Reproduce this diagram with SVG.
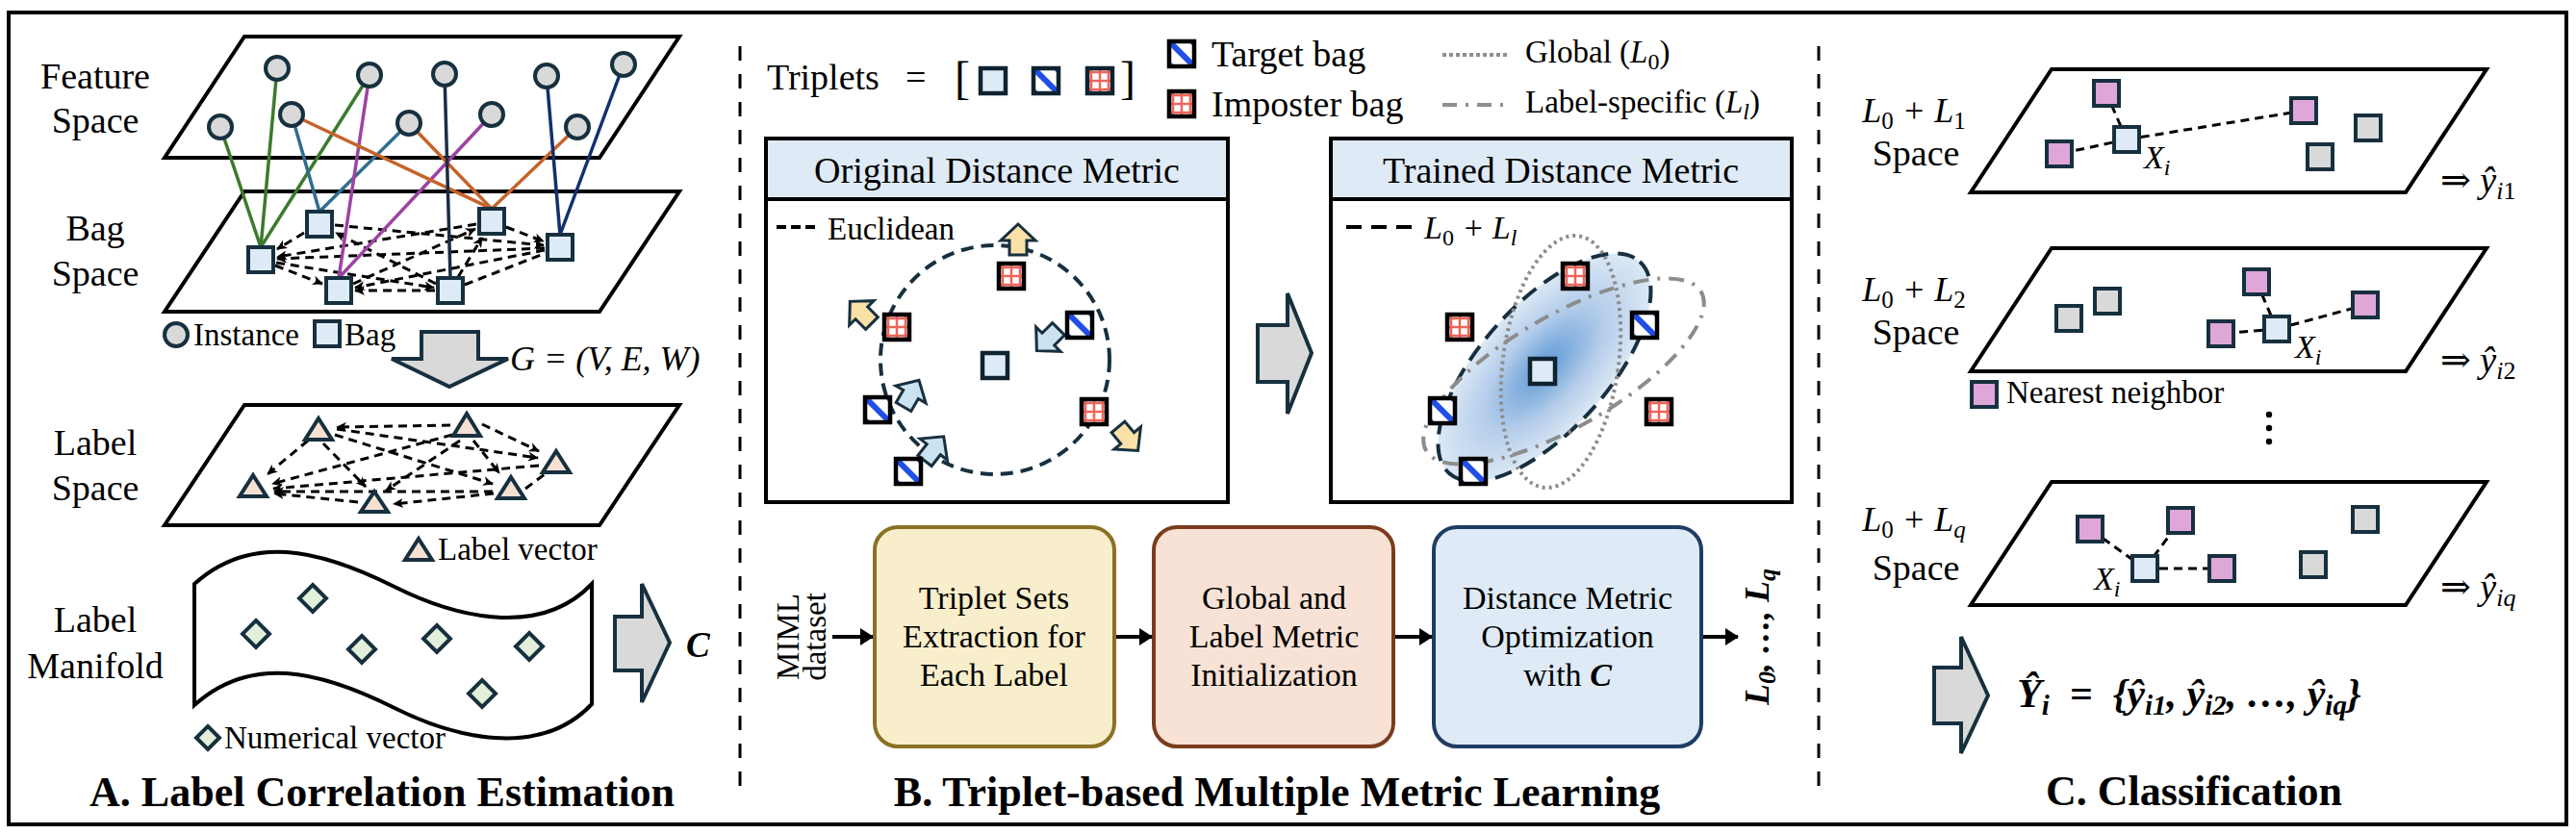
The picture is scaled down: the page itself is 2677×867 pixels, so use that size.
<svg xmlns="http://www.w3.org/2000/svg" width="2677" height="867" viewBox="0 0 2677 867">
<style>
text{font-family:"Liberation Serif","DejaVu Serif",serif;fill:#000}
.lbl{font-size:38px}
.leg{font-size:33px}
.box{font-size:34px}
.ttl{font-size:44px;font-weight:bold}
.it{font-style:italic}
.bi{font-style:italic;font-weight:bold}
.para{fill:#fff;stroke:#000;stroke-width:4;stroke-linejoin:miter}
.big{fill:#d9d9d9;stroke:#17303f;stroke-width:4;stroke-linejoin:miter}
.sep{stroke:#000;stroke-width:3;stroke-dasharray:15 14;fill:none}
.gd{stroke:#000;stroke-width:3;stroke-dasharray:9 6;fill:none}
.nd{stroke:#000;stroke-width:3;stroke-dasharray:9 6;fill:none}
.inst{fill:#d9d9d9;stroke:#17303f;stroke-width:4}
.tri{fill:#f6e0d2;stroke:#17303f;stroke-width:4;stroke-linejoin:miter}
.dia{fill:#e2efda;stroke:#17303f;stroke-width:4;stroke-linejoin:miter}
.flow{stroke:#000;stroke-width:4;fill:none}
.yarr{fill:#f9e1a8;stroke:#17303f;stroke-width:3;stroke-linejoin:miter}
.barr{fill:#cbe2f1;stroke:#17303f;stroke-width:3;stroke-linejoin:miter}
</style>
<defs>
<marker id="gm" markerUnits="userSpaceOnUse" markerWidth="11" markerHeight="10" refX="10" refY="5" orient="auto"><path d="M0,0 L11,5 L0,10 L3,5 Z" fill="#000"/></marker>
<marker id="fm" markerUnits="userSpaceOnUse" markerWidth="14" markerHeight="18" refX="13" refY="9" orient="auto"><path d="M0,0 L14,9 L0,18 Z" fill="#000"/></marker>
<clipPath id="sqc"><rect x="-13" y="-13" width="26" height="26"/></clipPath>
<g id="bag"><rect x="-13" y="-13" width="26" height="26" fill="#deebf7" stroke="#17303f" stroke-width="4"/></g>
<g id="pnk"><rect x="-13" y="-13" width="26" height="26" fill="#dfa6d8" stroke="#17303f" stroke-width="4"/></g>
<g id="gry"><rect x="-13" y="-13" width="26" height="26" fill="#d9d9d9" stroke="#17303f" stroke-width="4"/></g>
<g id="pln"><rect x="-13" y="-13" width="26" height="26" fill="#deebf7" stroke="#0f2230" stroke-width="4.5"/></g>
<g id="tgt">
<rect x="-13" y="-13" width="26" height="26" fill="#fff"/>
<g clip-path="url(#sqc)" stroke="#1f4fe6" stroke-width="6">
<line x1="-16" y1="-16" x2="16" y2="16"/>
<line x1="0" y1="-24" x2="24" y2="0"/>
<line x1="-24" y1="0" x2="0" y2="24"/>
</g>
<rect x="-13" y="-13" width="26" height="26" fill="none" stroke="#000" stroke-width="4.5"/>
</g>
<g id="imp">
<rect x="-13" y="-13" width="26" height="26" fill="#fff"/>
<g stroke="#f0645a" stroke-width="2.5">
<line x1="-9" y1="-13" x2="-9" y2="13"/><line x1="0" y1="-13" x2="0" y2="13"/><line x1="9" y1="-13" x2="9" y2="13"/>
<line x1="-13" y1="-9" x2="13" y2="-9"/><line x1="-13" y1="0" x2="13" y2="0"/><line x1="-13" y1="9" x2="13" y2="9"/>
</g>
<rect x="-13" y="-13" width="26" height="26" fill="none" stroke="#000" stroke-width="4.5"/>
</g>
<path id="blk" d="M0,-9 L15,-9 L15,-18 L32,0 L15,18 L15,9 L0,9 Z"/>
<radialGradient id="rg" cx="0.5" cy="0.5" r="0.5">
<stop offset="0" stop-color="#5e99d6"/>
<stop offset="0.55" stop-color="#b4cdea"/>
<stop offset="1" stop-color="#dce8f5"/>
</radialGradient>
</defs>

<rect x="9" y="13" width="2658" height="844" fill="#fff" stroke="#000" stroke-width="4"/>

<g id="separators">
<line class="sep" x1="769" y1="48" x2="769" y2="820"/>
<line class="sep" x1="1890" y1="48" x2="1890" y2="820"/>
</g>

<!-- ================= PANEL A ================= -->
<g id="feature-space">
<polygon class="para" points="254,38 706,38 623,164 171,164"/>
<text class="lbl" x="99" y="92" text-anchor="middle">Feature</text>
<text class="lbl" x="99" y="138" text-anchor="middle">Space</text>
</g>
<g id="bag-space">
<polygon class="para" points="254,199 706,199 623,324 171,324"/>
<text class="lbl" x="99" y="250" text-anchor="middle">Bag</text>
<text class="lbl" x="99" y="297" text-anchor="middle">Space</text>
</g>

<g id="bag-graph-edges" class="gd" marker-end="url(#gm)">
<line x1="348" y1="234" x2="565" y2="255"/>
<line x1="495" y1="233" x2="288" y2="267"/>
<line x1="566" y1="258" x2="288" y2="269"/>
<line x1="287" y1="273" x2="451" y2="299"/>
<line x1="316" y1="242" x2="288" y2="259"/>
<line x1="286" y1="276" x2="335" y2="295"/>
<line x1="453" y1="295" x2="349" y2="242"/>
<line x1="367" y1="295" x2="494" y2="238"/>
<line x1="566" y1="260" x2="369" y2="299"/>
<line x1="452" y1="302" x2="369" y2="302"/>
<line x1="526" y1="236" x2="565" y2="251"/>
<line x1="476" y1="288" x2="501" y2="247"/>
<line x1="483" y1="296" x2="567" y2="263" marker-end="none"/>
</g>

<g id="instance-bag-links" stroke-width="3.5" fill="none">
<g stroke="#3c7a2e"><line x1="229" y1="132" x2="271" y2="257"/><line x1="288" y1="71" x2="271" y2="257"/><line x1="384" y1="78" x2="271" y2="257"/></g>
<g stroke="#2f6e8e"><line x1="303" y1="119" x2="332" y2="220"/><line x1="425" y1="128" x2="332" y2="220"/></g>
<g stroke="#9c43a2"><line x1="384" y1="78" x2="352" y2="289"/><line x1="511" y1="119" x2="352" y2="289"/></g>
<g stroke="#c6632a"><line x1="303" y1="119" x2="511" y2="217"/><line x1="425" y1="128" x2="511" y2="217"/><line x1="600" y1="132" x2="511" y2="217"/></g>
<g stroke="#1b2c45"><line x1="462" y1="77" x2="468" y2="289"/></g>
<g stroke="#12306e"><line x1="568" y1="79" x2="582" y2="244"/><line x1="648" y1="67" x2="582" y2="244"/></g>
</g>

<g id="instances">
<circle class="inst" cx="288" cy="71" r="12"/>
<circle class="inst" cx="384" cy="78" r="12"/>
<circle class="inst" cx="462" cy="77" r="12"/>
<circle class="inst" cx="568" cy="79" r="12"/>
<circle class="inst" cx="648" cy="67" r="12"/>
<circle class="inst" cx="229" cy="132" r="12"/>
<circle class="inst" cx="303" cy="119" r="12"/>
<circle class="inst" cx="425" cy="128" r="12"/>
<circle class="inst" cx="511" cy="119" r="12"/>
<circle class="inst" cx="600" cy="132" r="12"/>
</g>
<g id="bags">
<use href="#bag" x="271" y="270"/>
<use href="#bag" x="332" y="233"/>
<use href="#bag" x="352" y="302"/>
<use href="#bag" x="511" y="230"/>
<use href="#bag" x="582" y="257"/>
<use href="#bag" x="468" y="302"/>
</g>

<g id="legend-instance-bag">
<circle class="inst" cx="183" cy="348" r="12"/>
<text class="leg" x="201" y="359">Instance</text>
<use href="#bag" x="340" y="347"/>
<text class="leg" x="358" y="359">Bag</text>
</g>

<g id="graph-arrow">
<path class="big" d="M438,345 L497,345 L497,373 L528,373 L467,402 L407,373 L438,373 Z"/>
<text class="it" font-size="36" x="530" y="385">G = (V, E, W)</text>
</g>

<g id="label-space">
<polygon class="para" points="254,421 706,421 623,546 171,546"/>
<text class="lbl" x="99" y="473" text-anchor="middle">Label</text>
<text class="lbl" x="99" y="520" text-anchor="middle">Space</text>
</g>
<g id="label-graph-edges" class="gd" marker-end="url(#gm)">
<line x1="468" y1="442" x2="350" y2="444"/>
<line x1="320" y1="458" x2="278" y2="493"/>
<line x1="470" y1="452" x2="283" y2="503"/>
<line x1="560" y1="484" x2="284" y2="508"/>
<line x1="512" y1="511" x2="285" y2="511"/>
<line x1="372" y1="522" x2="285" y2="513"/>
<line x1="348" y1="452" x2="512" y2="503"/>
<line x1="336" y1="461" x2="380" y2="506"/>
<line x1="501" y1="441" x2="560" y2="469"/>
<line x1="350" y1="446" x2="559" y2="476"/>
<line x1="513" y1="513" x2="409" y2="524"/>
<line x1="478" y1="458" x2="401" y2="510"/>
<line x1="492" y1="458" x2="519" y2="492"/>
<line x1="546" y1="508" x2="566" y2="493" marker-end="none"/>
</g>
<g id="label-vectors">
<polygon class="tri" points="331,435 345,457 317,457"/>
<polygon class="tri" points="485,430 499,453 471,453"/>
<polygon class="tri" points="578,469 592,491 564,491"/>
<polygon class="tri" points="263,494 277,516 249,516"/>
<polygon class="tri" points="389,511 403,532 375,532"/>
<polygon class="tri" points="531,496 545,518 517,518"/>
</g>
<g id="legend-label-vector">
<polygon class="tri" points="435,560 449,582 421,582"/>
<text class="leg" x="455" y="582">Label vector</text>
</g>

<g id="label-manifold">
<path d="M202,607 C260,555 330,570 410,610 C470,640 560,665 615,607 L615,732 C560,790 470,766 410,736 C330,696 260,681 202,733 Z" fill="#fff" stroke="#000" stroke-width="4"/>
<text class="lbl" x="99" y="657" text-anchor="middle">Label</text>
<text class="lbl" x="99" y="705" text-anchor="middle">Manifold</text>
<polygon class="dia" points="325,608 339,622 325,636 311,622"/>
<polygon class="dia" points="266,645 280,659 266,673 252,659"/>
<polygon class="dia" points="376,661 390,675 376,689 362,675"/>
<polygon class="dia" points="454,650 468,664 454,678 440,664"/>
<polygon class="dia" points="550,658 564,672 550,686 536,672"/>
<polygon class="dia" points="501,707 515,721 501,735 487,721"/>
</g>
<g id="legend-numerical">
<polygon class="dia" points="216,755 228,767 216,779 204,767"/>
<text class="leg" x="233" y="778">Numerical vector</text>
</g>
<g id="corr-arrow">
<path class="big" d="M639,641 L667,641 L667,607 L696,668 L667,730 L667,697 L639,697 Z"/>
<text class="bi" font-size="37" x="713" y="683">C</text>
</g>
<text class="ttl" x="397" y="838" text-anchor="middle">A. Label Correlation Estimation</text>

<!-- ================= PANEL B ================= -->
<g id="triplets-legend">
<text class="lbl" x="797" y="93">Triplets</text>
<text class="lbl" x="941" y="93">=</text>
<text font-size="48" x="992" y="97">[</text>
<use href="#pln" x="1032" y="84"/>
<g transform="translate(1087,84)"><rect x="-13" y="-13" width="26" height="26" fill="#fff"/><g clip-path="url(#sqc)" stroke="#1f4fe6" stroke-width="6"><line x1="-16" y1="-16" x2="16" y2="16"/><line x1="0" y1="-24" x2="24" y2="0"/><line x1="-24" y1="0" x2="0" y2="24"/></g><rect x="-13" y="-13" width="26" height="26" fill="none" stroke="#0f2230" stroke-width="4.5"/></g>
<g transform="translate(1143,84)"><rect x="-13" y="-13" width="26" height="26" fill="#fff"/><g stroke="#f0645a" stroke-width="2.5"><line x1="-9" y1="-13" x2="-9" y2="13"/><line x1="0" y1="-13" x2="0" y2="13"/><line x1="9" y1="-13" x2="9" y2="13"/><line x1="-13" y1="-9" x2="13" y2="-9"/><line x1="-13" y1="0" x2="13" y2="0"/><line x1="-13" y1="9" x2="13" y2="9"/></g><rect x="-13" y="-13" width="26" height="26" fill="none" stroke="#0f2230" stroke-width="4.5"/></g>
<text font-size="48" x="1164" y="97">]</text>
<use href="#tgt" x="1228" y="56"/>
<text class="lbl" x="1259" y="69">Target bag</text>
<use href="#imp" x="1228" y="108"/>
<text class="lbl" x="1259" y="121">Imposter bag</text>
<line x1="1499" y1="57" x2="1568" y2="57" stroke="#8f8f8f" stroke-width="4" stroke-dasharray="4 3"/>
<text class="leg" x="1585" y="65">Global (<tspan class="it">L</tspan><tspan dy="7" font-size="24">0</tspan><tspan dy="-7">)</tspan></text>
<line x1="1499" y1="109" x2="1562" y2="109" stroke="#8f8f8f" stroke-width="4" stroke-dasharray="15 9 3 9"/>
<text class="leg" x="1585" y="117">Label-specific (<tspan class="it">L</tspan><tspan class="it" dy="7" font-size="24">l</tspan><tspan dy="-7">)</tspan></text>
</g>

<g id="original-metric">
<rect x="796" y="144" width="480" height="378" fill="#fff" stroke="#000" stroke-width="4"/>
<rect x="796" y="144" width="480" height="63" fill="#deeaf6" stroke="#000" stroke-width="4"/>
<text class="lbl" x="1036" y="190" text-anchor="middle">Original Distance Metric</text>
<line x1="807" y1="236" x2="848" y2="236" stroke="#000" stroke-width="4" stroke-dasharray="10 5"/>
<text class="leg" x="860" y="249">Euclidean</text>
<circle cx="1034" cy="374" r="119" fill="none" stroke="#17303f" stroke-width="4" stroke-dasharray="13 8"/>
<use href="#blk" class="yarr" transform="translate(1058,265) rotate(-90)"/>
<use href="#blk" class="yarr" transform="translate(906,336) rotate(-135)"/>
<use href="#blk" class="yarr" transform="translate(1162,444) rotate(50)"/>
<use href="#blk" class="barr" transform="translate(1100,342) rotate(135)"/>
<use href="#blk" class="barr" transform="translate(939,423) rotate(-60)"/>
<use href="#blk" class="barr" transform="translate(961,479) rotate(-52)"/>
<use href="#pln" x="1034" y="380"/>
<use href="#imp" x="1051" y="287"/>
<use href="#imp" x="932" y="340"/>
<use href="#imp" x="1137" y="428"/>
<use href="#tgt" x="1122" y="338"/>
<use href="#tgt" x="912" y="426"/>
<use href="#tgt" x="944" y="490"/>
</g>

<g id="train-arrow">
<path class="big" d="M1307,338 L1338,338 L1338,305 L1363,367 L1338,430 L1338,397 L1307,397 Z"/>
</g>

<g id="trained-metric">
<rect x="1383" y="144" width="479" height="378" fill="#fff" stroke="#000" stroke-width="4"/>
<rect x="1383" y="144" width="479" height="63" fill="#deeaf6" stroke="#000" stroke-width="4"/>
<text class="lbl" x="1622" y="190" text-anchor="middle">Trained Distance Metric</text>
<line x1="1399" y1="236" x2="1468" y2="236" stroke="#000" stroke-width="4" stroke-dasharray="16 10"/>
<text class="it" font-size="34" x="1480" y="248">L<tspan font-style="normal" dy="7" font-size="24">0</tspan><tspan dy="-7"> + L</tspan><tspan dy="7" font-size="24">l</tspan></text>
<ellipse cx="0" cy="0" rx="148" ry="66" transform="translate(1605,382) rotate(-48)" fill="url(#rg)" stroke="#17303f" stroke-width="4" stroke-dasharray="18 10"/>
<ellipse cx="0" cy="0" rx="60" ry="132" transform="translate(1622,376) rotate(8)" fill="none" stroke="#8c8c8c" stroke-width="4" stroke-dasharray="3 4"/>
<ellipse cx="0" cy="0" rx="165" ry="58" transform="translate(1625,386) rotate(-30)" fill="none" stroke="#8c8c8c" stroke-width="4" stroke-dasharray="16 9 3 9"/>
<use href="#pln" x="1603" y="386"/>
<use href="#imp" x="1637" y="287"/>
<use href="#imp" x="1517" y="340"/>
<use href="#imp" x="1724" y="428"/>
<use href="#tgt" x="1709" y="338"/>
<use href="#tgt" x="1499" y="427"/>
<use href="#tgt" x="1531" y="490"/>
</g>

<g id="miml-input">
<text font-size="33" transform="translate(830,662) rotate(-90)" text-anchor="middle">MIML</text>
<text font-size="33" transform="translate(858,662) rotate(-90)" text-anchor="middle">dataset</text>
</g>
<g id="box-triplet">
<rect x="909" y="548" width="249" height="228" rx="24" fill="#f9eecb" stroke="#8a7123" stroke-width="4"/>
<text class="box" x="1033" y="633" text-anchor="middle">Triplet Sets</text>
<text class="box" x="1033" y="673" text-anchor="middle">Extraction for</text>
<text class="box" x="1033" y="713" text-anchor="middle">Each Label</text>
</g>
<g id="box-init">
<rect x="1199" y="548" width="249" height="228" rx="24" fill="#f7e2d5" stroke="#7a3c1c" stroke-width="4"/>
<text class="box" x="1324" y="633" text-anchor="middle">Global and</text>
<text class="box" x="1324" y="673" text-anchor="middle">Label Metric</text>
<text class="box" x="1324" y="713" text-anchor="middle">Initialization</text>
</g>
<g id="box-opt">
<rect x="1490" y="548" width="278" height="228" rx="24" fill="#deeaf6" stroke="#1f3d63" stroke-width="4"/>
<text class="box" x="1629" y="633" text-anchor="middle">Distance Metric</text>
<text class="box" x="1629" y="673" text-anchor="middle">Optimization</text>
<text class="box" x="1629" y="713" text-anchor="middle">with <tspan class="bi">C</tspan></text>
</g>
<g id="output-metrics">
<text class="bi" font-size="36" transform="translate(1838,662) rotate(-90)" text-anchor="middle">L<tspan dy="7" font-size="26">0</tspan><tspan dy="-7">, …, L</tspan><tspan dy="7" font-size="26">q</tspan></text>
</g>
<g id="connectors" class="flow" marker-end="url(#fm)">
<line x1="865" y1="662" x2="907" y2="662"/>
<line x1="1160" y1="662" x2="1197" y2="662"/>
<line x1="1450" y1="662" x2="1488" y2="662"/>
<line x1="1770" y1="662" x2="1806" y2="662"/>
</g>
<text class="ttl" x="1327" y="838" text-anchor="middle">B. Triplet-based Multiple Metric Learning</text>

<!-- ================= PANEL C ================= -->
<g id="space-1">
<polygon class="para" points="2132,72 2584,72 2500,200 2048,200"/>
<text class="it" font-size="36" x="1989" y="127" text-anchor="middle">L<tspan font-style="normal" dy="7" font-size="25">0</tspan><tspan dy="-7"> + L</tspan><tspan font-style="normal" dy="7" font-size="25">1</tspan></text>
<text class="lbl" x="1991" y="172" text-anchor="middle">Space</text>
<g class="nd"><line x1="2210" y1="145" x2="2189" y2="97"/><line x1="2210" y1="145" x2="2140" y2="160"/><line x1="2210" y1="145" x2="2394" y2="115"/></g>
<use href="#pnk" x="2189" y="97"/><use href="#pnk" x="2140" y="160"/><use href="#pnk" x="2394" y="115"/>
<use href="#gry" x="2461" y="133"/><use href="#gry" x="2411" y="163"/>
<use href="#bag" x="2210" y="145"/>
<text class="it" font-size="34" x="2228" y="175">X<tspan dy="7" font-size="24">i</tspan></text>
<text font-size="38" x="2536" y="200">⇒ <tspan class="it">ŷ</tspan><tspan class="it" dy="7" font-size="26">i</tspan><tspan font-size="26">1</tspan></text>
</g>
<g id="space-2">
<polygon class="para" points="2132,258 2584,258 2500,386 2048,386"/>
<text class="it" font-size="36" x="1989" y="313" text-anchor="middle">L<tspan font-style="normal" dy="7" font-size="25">0</tspan><tspan dy="-7"> + L</tspan><tspan font-style="normal" dy="7" font-size="25">2</tspan></text>
<text class="lbl" x="1991" y="358" text-anchor="middle">Space</text>
<g class="nd"><line x1="2366" y1="342" x2="2345" y2="293"/><line x1="2366" y1="342" x2="2308" y2="347"/><line x1="2366" y1="342" x2="2458" y2="317"/></g>
<use href="#gry" x="2150" y="331"/><use href="#gry" x="2190" y="313"/>
<use href="#pnk" x="2345" y="293"/><use href="#pnk" x="2308" y="347"/><use href="#pnk" x="2458" y="317"/>
<use href="#bag" x="2366" y="342"/>
<text class="it" font-size="34" x="2385" y="372">X<tspan dy="7" font-size="24">i</tspan></text>
<text font-size="38" x="2536" y="387">⇒ <tspan class="it">ŷ</tspan><tspan class="it" dy="7" font-size="26">i</tspan><tspan font-size="26">2</tspan></text>
</g>
<g id="legend-nn">
<use href="#pnk" x="2062" y="410"/>
<text class="leg" x="2085" y="419">Nearest neighbor</text>
</g>
<g id="vdots" fill="#000">
<circle cx="2358" cy="431" r="3.2"/><circle cx="2358" cy="445" r="3.2"/><circle cx="2358" cy="459" r="3.2"/>
</g>
<g id="space-q">
<polygon class="para" points="2132,501 2584,501 2500,629 2048,629"/>
<text class="it" font-size="36" x="1989" y="552" text-anchor="middle">L<tspan font-style="normal" dy="7" font-size="25">0</tspan><tspan dy="-7"> + L</tspan><tspan dy="7" font-size="25">q</tspan></text>
<text class="lbl" x="1991" y="603" text-anchor="middle">Space</text>
<g class="nd"><line x1="2229" y1="591" x2="2172" y2="550"/><line x1="2229" y1="591" x2="2266" y2="541"/><line x1="2229" y1="591" x2="2309" y2="591"/></g>
<use href="#pnk" x="2172" y="550"/><use href="#pnk" x="2266" y="541"/><use href="#pnk" x="2309" y="591"/>
<use href="#gry" x="2458" y="540"/><use href="#gry" x="2404" y="587"/>
<use href="#bag" x="2229" y="591"/>
<text class="it" font-size="34" x="2176" y="613">X<tspan dy="7" font-size="24">i</tspan></text>
<text font-size="38" x="2536" y="623">⇒ <tspan class="it">ŷ</tspan><tspan class="it" dy="7" font-size="26">iq</tspan></text>
</g>
<g id="result-arrow">
<path class="big" d="M2010,694 L2038,694 L2038,662 L2066,723 L2038,783 L2038,752 L2010,752 Z"/>
<text class="bi" font-size="42" x="2096" y="735">Ŷ<tspan dy="8" font-size="29">i</tspan><tspan dy="-8">&#160;&#160;=&#160;&#160;{ŷ</tspan><tspan dy="8" font-size="29">i1</tspan><tspan dy="-8">, ŷ</tspan><tspan dy="8" font-size="29">i2</tspan><tspan dy="-8">, …, ŷ</tspan><tspan dy="8" font-size="29">iq</tspan><tspan dy="-8">}</tspan></text>
</g>
<text class="ttl" x="2280" y="837" text-anchor="middle">C. Classification</text>
</svg>
